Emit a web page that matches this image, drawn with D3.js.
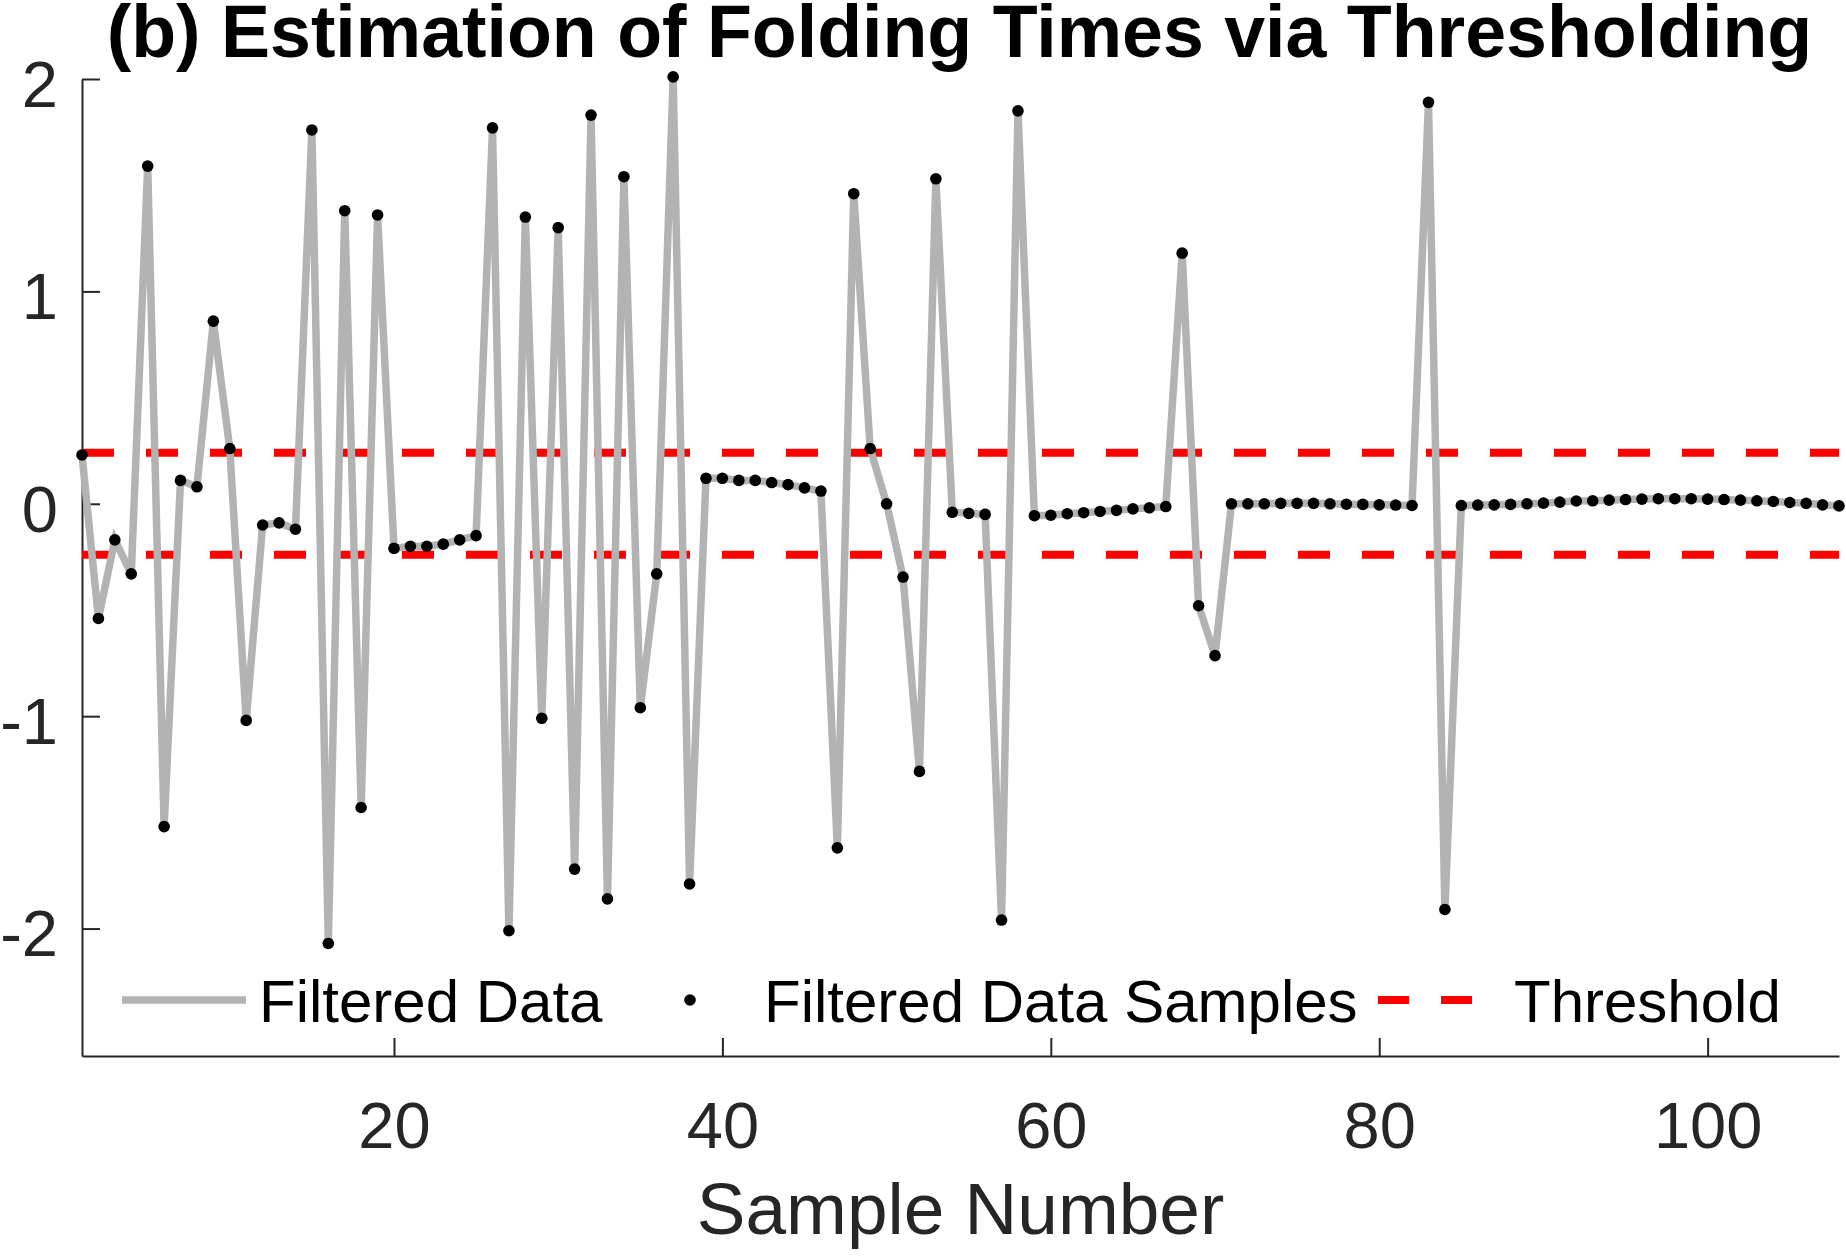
<!DOCTYPE html>
<head>
  <meta charset="utf-8">
  <style>
    body { margin: 0; background: #fff; }
    svg text { font-family: "Liberation Sans", Arial, Helvetica, sans-serif; }
    svg .axis .domain, svg .axis .tick line { stroke: #262626; stroke-width: 2px; }
    svg .axis .tick text { fill: #262626; font-size: 65px; }
    svg .path { fill: none; stroke: #b3b3b3; stroke-width: 7.5px; }
    svg .thresh { fill: none; stroke: #ff0000; stroke-width: 8px; stroke-dasharray: 32 32; }
  </style>
</head>

<body>
<script src="https://d3js.org/d3.v7.min.js"></script>

<script>
  // filtered signal, one value per sample (sample numbers 1..108)
  var filtered = [
     0.23, -0.54, -0.17, -0.33,  1.59, -1.52,  0.11,  0.08,  0.86,  0.26,
    -1.02, -0.10, -0.09, -0.12,  1.76, -2.07,  1.38, -1.43,  1.36, -0.21,
    -0.20, -0.20, -0.19, -0.17, -0.15,  1.77, -2.01,  1.35, -1.01,  1.30,
    -1.72,  1.83, -1.86,  1.54, -0.96, -0.33,  2.01, -1.79,  0.12,  0.12,
     0.11,  0.11,  0.10,  0.09,  0.075, 0.06, -1.62,  1.46,  0.26,  0.00,
    -0.345,-1.26,  1.53, -0.04, -0.045,-0.05, -1.96,  1.85, -0.056,-0.054,
    -0.047,-0.042,-0.036,-0.031,-0.024,-0.019,-0.013, 1.18, -0.48, -0.715,
     0.00,  0.00,  0.00,  0.002, 0.002, 0.002, 0.00, -0.002,-0.003,-0.005,
    -0.006,-0.008, 1.89, -1.91, -0.008,-0.006,-0.005,-0.003, 0.00,  0.003,
     0.008, 0.013, 0.014, 0.017, 0.020, 0.022, 0.024, 0.024, 0.024, 0.022,
     0.020, 0.017, 0.014, 0.011, 0.006, 0.002,-0.005,-0.010
  ];
  var thresholds = [0.24, -0.24];
  var xTicks = [20, 40, 60, 80, 100];
  var yTicks = [-2, -1, 0, 1, 2];
  var xDomain = [1, 108];
  var yDomain = [-2.6, 2];
  var legendLabels = ["Filtered Data", "Filtered Data Samples", "Threshold"];
  var titleText = "(b) Estimation of Folding Times via Thresholding";
  var xLabelText = "Sample Number";

  var W = 1846, H = 1258;
  var plot = { left: 82, right: 1839, top: 79, bottom: 1056 };

  var svg = d3.select("body")
    .append("svg")
      .attr("width", W)
      .attr("height", H);

  var xScale = d3.scaleLinear().domain(xDomain).range([plot.left, plot.right]);
  var yScale = d3.scaleLinear().domain(yDomain).range([plot.bottom, plot.top]);

  // axes (ticks point inward, no box)
  var xAxis = d3.axisBottom(xScale)
    .tickValues(xTicks)
    .tickSizeInner(-18)
    .tickSizeOuter(0)
    .tickPadding(46);

  svg.append("g")
      .attr("class", "axis x-axis")
      .attr("transform", "translate(0," + plot.bottom + ")")
      .call(xAxis);

  var yAxis = d3.axisLeft(yScale)
    .tickValues(yTicks)
    .tickSizeInner(-18)
    .tickSizeOuter(0)
    .tickPadding(24)
    .tickFormat(function (d) { return String(d); });   // plain hyphen minus

  svg.append("g")
      .attr("class", "axis y-axis")
      .attr("transform", "translate(" + plot.left + ",0)")
      .call(yAxis)
    .selectAll(".tick text")
      .attr("dy", "0.42em");

  svg.selectAll(".axis .domain").attr("stroke", "#262626");
  svg.selectAll(".axis text").attr("font-family", null);

  // threshold lines
  var hline = d3.line()
    .x(function (d) { return xScale(d); });

  svg.selectAll(".thresh")
    .data(thresholds)
    .enter()
    .append("path")
      .attr("class", "thresh")
      .attr("d", function (t) {
        return hline.y(yScale(t))(xDomain);
      });

  // filtered data line
  var sigLine = d3.line()
    .x(function (d, i) { return xScale(i + 1); })
    .y(function (d) { return yScale(d); });

  svg.append("path")
      .attr("class", "path")
      .attr("d", sigLine(filtered));

  // samples
  svg.append("g")
    .selectAll("circle")
    .data(filtered)
    .enter()
    .append("circle")
      .attr("cx", function (d, i) { return xScale(i + 1); })
      .attr("cy", function (d) { return yScale(d); })
      .attr("r", 5.8)
      .attr("fill", "#000");

  // title
  svg.append("text")
      .attr("x", (plot.left + plot.right) / 2 - 1)
      .attr("y", 57)
      .attr("text-anchor", "middle")
      .style("font-size", "73.5px")
      .style("font-weight", "bold")
      .style("fill", "#000")
      .text(titleText);

  // x label
  svg.append("text")
      .attr("x", (plot.left + plot.right) / 2)
      .attr("y", 1234)
      .attr("text-anchor", "middle")
      .style("font-size", "73px")
      .style("fill", "#262626")
      .text(xLabelText);

  // legend (horizontal, inside bottom of axes, no box)
  var legend = svg.append("g").attr("class", "legend");
  var legY = 1000, legBase = 1022;

  legend.append("line")
      .attr("x1", 122).attr("x2", 246)
      .attr("y1", legY).attr("y2", legY)
      .style("stroke", "#b3b3b3")
      .style("stroke-width", "7.5px");

  legend.append("circle")
      .attr("cx", 690).attr("cy", legY)
      .attr("r", 5.8)
      .attr("fill", "#000");

  legend.append("line")
      .attr("x1", 1378).attr("x2", 1472)
      .attr("y1", legY).attr("y2", legY)
      .style("stroke", "#ff0000")
      .style("stroke-width", "8px")
      .style("stroke-dasharray", "31 32");

  legend.selectAll("text")
    .data(legendLabels)
    .enter()
    .append("text")
      .attr("x", function (d, i) { return [259, 764, 1514][i]; })
      .attr("y", legBase)
      .style("font-size", "60px")
      .style("fill", "#000")
      .text(function (d) { return d; });
</script>
</body>
</html>
